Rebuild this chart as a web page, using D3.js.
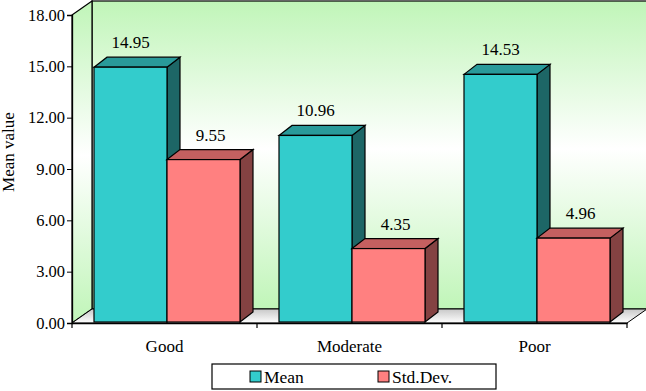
<!DOCTYPE html>
<html>
<head>
<meta charset="utf-8">
<script src="https://cdn.jsdelivr.net/npm/d3@7"></script>
<style>
  body { margin: 0; background: #fff; }
  svg text { font-family: "Times New Roman", "Liberation Serif", "DejaVu Serif", serif !important; }
</style>
</head>
<body>
<svg id="drawing_region"></svg>
<script>
const categories = ['Good', 'Moderate', 'Poor'];
const seriesNames = ['Mean', 'Std.Dev.'];
const meanValues = [14.95, 10.96, 14.53];
const sdValues = [9.55, 4.35, 4.96];
const yTicks = [0, 3, 6, 9, 12, 15, 18];

const W = 646, H = 391;
const plotLeft = 72, plotRight = 627, plotTop = 15, plotBottom = 323;
const depth = { x: 20, y: -14 };     // wall depth
const barDepth = { x: 13, y: -10 };  // bar depth

const svg = d3.select('#drawing_region').attr('width', W).attr('height', H);

const defs = svg.append('defs');
const wallGrad = defs.append('linearGradient').attr('id', 'wall')
    .attr('x1', 0).attr('y1', 0).attr('x2', 0).attr('y2', 1);
wallGrad.append('stop').attr('offset', '0%').attr('stop-color', '#c0f5b8');
wallGrad.append('stop').attr('offset', '48%').attr('stop-color', '#ffffff');
wallGrad.append('stop').attr('offset', '100%').attr('stop-color', '#c0f5b8');
const floorGrad = defs.append('linearGradient').attr('id', 'floor')
    .attr('x1', 0).attr('y1', 1).attr('x2', 0).attr('y2', 0);
floorGrad.append('stop').attr('offset', '0%').attr('stop-color', '#ffffff');
floorGrad.append('stop').attr('offset', '100%').attr('stop-color', '#c8c8c8');

const x = d3.scaleBand().domain(categories).range([plotLeft, plotRight]);
const xs = d3.scaleBand().domain(seriesNames).range([22, 168]);
const y = d3.scaleLinear().domain([0, 18]).range([plotBottom, plotTop]);

const data = [];
categories.forEach((c, i) => {
    data.push({ cat: c, s: 'Mean', v: meanValues[i] });
    data.push({ cat: c, s: 'Std.Dev.', v: sdValues[i] });
});
const colors = {
    'Mean': { front: '#33cccc', top: '#299a9a', side: '#1d6666' },
    'Std.Dev.': { front: '#ff8080', top: '#c46060', side: '#844242' }
};

const pts = p => p.map(d => d.join(',')).join(' ');

// back wall
svg.append('rect')
    .attr('x', plotLeft + depth.x).attr('y', plotTop + depth.y)
    .attr('width', plotRight - plotLeft).attr('height', plotBottom - plotTop)
    .attr('fill', 'url(#wall)').attr('stroke', '#000').attr('stroke-width', 1.2);
// left wall
svg.append('polygon')
    .attr('points', pts([[plotLeft, plotTop], [plotLeft + depth.x, plotTop + depth.y],
        [plotLeft + depth.x, plotBottom + depth.y], [plotLeft, plotBottom]]))
    .attr('fill', 'url(#wall)').attr('stroke', '#000').attr('stroke-width', 1.2);
// floor
svg.append('polygon')
    .attr('points', pts([[plotLeft, plotBottom], [plotLeft + depth.x, plotBottom + depth.y],
        [plotRight + depth.x, plotBottom + depth.y], [plotRight, plotBottom]]))
    .attr('fill', 'url(#floor)').attr('stroke', '#000').attr('stroke-width', 1);

// bars
const bars = svg.append('g').selectAll('g').data(data).join('g');
bars.each(function(d) {
    const g = d3.select(this);
    const x0 = x(d.cat) + xs(d.s), bw = xs.bandwidth();
    const yt = y(d.v), yb = y(0) - 1;
    const c = colors[d.s];
    g.append('polygon')
        .attr('points', pts([[x0 + bw, yt], [x0 + bw + barDepth.x, yt + barDepth.y],
            [x0 + bw + barDepth.x, yb + barDepth.y], [x0 + bw, yb]]))
        .attr('fill', c.side).attr('stroke', '#000').attr('stroke-width', 1.2);
    g.append('polygon')
        .attr('points', pts([[x0, yt], [x0 + barDepth.x, yt + barDepth.y],
            [x0 + bw + barDepth.x, yt + barDepth.y], [x0 + bw, yt]]))
        .attr('fill', c.top).attr('stroke', '#000').attr('stroke-width', 1.2);
    g.append('rect')
        .attr('x', x0).attr('y', yt).attr('width', bw).attr('height', yb - yt)
        .attr('fill', c.front).attr('stroke', '#000').attr('stroke-width', 1.2);
    g.append('text')
        .attr('x', x0 + bw / 2 + (d.s === 'Mean' ? 0 : 7))
        .attr('y', yt + barDepth.y - 9)
        .attr('text-anchor', 'middle')
        .attr('font-size', 17)
        .text(d.v.toFixed(2));
});

// y axis
const yAxis = svg.append('g')
    .attr('transform', `translate(${plotLeft},0)`)
    .call(d3.axisLeft(y).tickValues(yTicks).tickFormat(d3.format('.2f')).tickSize(5).tickPadding(2));
yAxis.select('.domain').attr('stroke-width', 1.3);
yAxis.selectAll('text').attr('font-size', 16.5).attr('fill', '#000');

// x axis
const xAxis = svg.append('g')
    .attr('transform', `translate(0,${plotBottom})`)
    .call(d3.axisBottom(x).tickSize(0).tickPadding(17));
xAxis.select('.domain').attr('stroke-width', 1.3);
xAxis.selectAll('text').attr('font-size', 17).attr('fill', '#000');
xAxis.selectAll('.sep').data([plotLeft, ...categories.map(c => x(c) + x.bandwidth())])
    .join('line').attr('class', 'sep')
    .attr('x1', d => d).attr('x2', d => d).attr('y1', 0).attr('y2', 5)
    .attr('stroke', '#000').attr('stroke-width', 1.2);

// y title
svg.append('text')
    .attr('transform', 'translate(14,152) rotate(-90)')
    .attr('text-anchor', 'middle')
    .attr('font-size', 17)
    .text('Mean value');

// legend
const lg = svg.append('g').attr('transform', 'translate(212,364)');
lg.append('rect').attr('width', 284).attr('height', 25)
    .attr('fill', '#fff').attr('stroke', '#000').attr('stroke-width', 1.2);
const items = lg.selectAll('g.item').data(seriesNames).join('g')
    .attr('class', 'item')
    .attr('transform', (d, i) => `translate(${38 + i * 128},7)`);
items.append('rect').attr('width', 11).attr('height', 11)
    .attr('fill', d => colors[d].front).attr('stroke', '#000').attr('stroke-width', 1);
items.append('text').attr('x', 14).attr('y', 11.5).attr('font-size', 17.5).text(d => d);
</script>
</body>
</html>
